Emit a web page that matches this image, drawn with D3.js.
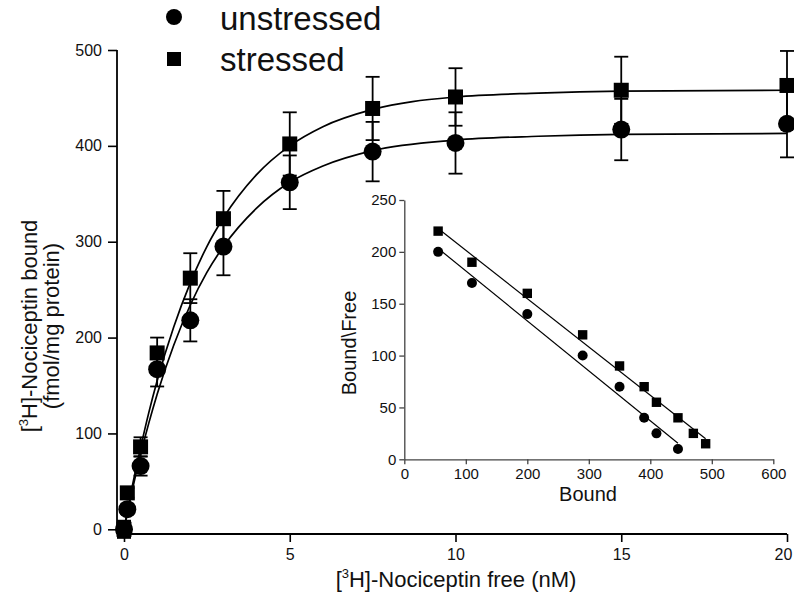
<!DOCTYPE html>
<html>
<head>
<meta charset="utf-8">
<script src="https://cdn.jsdelivr.net/npm/d3@7"></script>
<style>
  html, body { margin: 0; padding: 0; background: #fff; }
  svg { display: block; font-family: "Liberation Sans", Arial, sans-serif; }
</style>
</head>
<body>
<svg id="chart" width="794" height="599"></svg>
<script>
// ---------- Main saturation data ----------
const concentrations = [0, 0.1, 0.5, 1, 2, 3, 5, 7.5, 10, 15, 20];
const unstressedBound = [0, 21, 66, 167, 218, 295, 362, 394, 403, 417, 423];
const unstressedErr   = [9, 5, 10, 18, 22, 30, 28, 31, 32, 32, 35];
const stressedBound   = [0, 38, 86, 184, 262, 324, 402, 439, 451, 458, 463];
const stressedErr     = [8, 5, 10, 16, 26, 29, 33, 33, 30, 35, 36];

// fitted curves
const fitX          = [0, 0.25, 0.5, 0.75, 1, 1.5, 2, 2.5, 3, 4, 5, 6, 7.5, 10, 12.5, 15, 20];
const fitUnstressed = [0, 41, 78, 111, 141, 192, 234, 268, 295, 335, 362, 379, 395, 406, 410, 412, 413];
const fitStressed   = [0, 45, 85, 122, 155, 211, 257, 295, 325, 370, 400, 420, 438, 451, 455, 457, 458];

const xTicks = [0, 5, 10, 15, 20];
const yTicks = [0, 100, 200, 300, 400, 500];

// ---------- Scatchard inset data ----------
const scatBoundStressed   = [55, 110, 200, 290, 350, 390, 410, 445, 470, 490];
const scatRatioStressed   = [220, 190, 160, 120, 90, 70, 55, 40, 25, 15];
const scatBoundUnstressed = [55, 110, 200, 290, 350, 390, 410, 445];
const scatRatioUnstressed = [200, 170, 140, 100, 70, 40, 25, 10];
const insetXTicks = [0, 100, 200, 300, 400, 500, 600];
const insetYTicks = [0, 50, 100, 150, 200, 250];

const legendLabels = ["unstressed", "stressed"];

// ---------- Drawing ----------
const svg = d3.select("#chart");
const FONT = '"Liberation Sans", Arial, sans-serif';

const x = d3.scaleLinear().domain([0, 20]).range([124, 787]);
const y = d3.scaleLinear().domain([0, 500]).range([529.3, 50]);
const axisX = 117, axisY = 534;

// axes
const gy = svg.append("g").attr("transform", `translate(${axisX},0)`)
  .call(d3.axisLeft(y).tickValues(yTicks).tickSize(9).tickSizeOuter(0).tickPadding(6).tickFormat(d3.format("d")));
gy.select(".domain").remove();
const gx = svg.append("g").attr("transform", `translate(0,${axisY})`)
  .call(d3.axisBottom(x).tickValues(xTicks).tickSize(8).tickSizeOuter(0).tickPadding(7).tickFormat(d3.format("d")));
gx.select(".domain").remove();
[gx, gy].forEach(g => {
  g.selectAll("line").attr("stroke", "#000").attr("stroke-width", 1.6);
  g.selectAll("text").attr("fill", "#111").style("font-size", "16px").style("font-family", FONT);
});
// keep the last x label inside the frame
gx.selectAll(".tick text").filter(d => d === 20).attr("dx", -4);
svg.append("line").attr("x1", axisX).attr("x2", axisX).attr("y1", y(500)).attr("y2", axisY)
  .attr("stroke", "#000").attr("stroke-width", 1.8);
svg.append("line").attr("x1", axisX).attr("x2", x(20)).attr("y1", axisY).attr("y2", axisY)
  .attr("stroke", "#000").attr("stroke-width", 1.8);

// axis titles
const xt = svg.append("text").attr("x", 456).attr("y", 587).attr("text-anchor", "middle")
  .style("font-size", "22px").attr("fill", "#111");
xt.append("tspan").text("[");
xt.append("tspan").text("3").style("font-size", "13px").attr("dy", -9);
xt.append("tspan").text("H]-Nociceptin free (nM)").attr("dy", 9);

const yt1 = svg.append("text").attr("transform", "translate(37,326) rotate(-90)")
  .attr("text-anchor", "middle").style("font-size", "22px").attr("fill", "#111");
yt1.append("tspan").text("[");
yt1.append("tspan").text("3").style("font-size", "13px").attr("dy", -9);
yt1.append("tspan").text("H]-Nociceptin bound").attr("dy", 9);
svg.append("text").attr("transform", "translate(59,326) rotate(-90)")
  .attr("text-anchor", "middle").style("font-size", "22px").attr("fill", "#111")
  .text("(fmol/mg protein)");

// fit curves
const fitLine = vals => d3.line().x((d, i) => x(fitX[i])).y((d) => y(d)).curve(d3.curveMonotoneX)(vals);
svg.append("path").attr("d", fitLine(fitUnstressed)).attr("fill", "none").attr("stroke", "#000").attr("stroke-width", 1.7);
svg.append("path").attr("d", fitLine(fitStressed)).attr("fill", "none").attr("stroke", "#000").attr("stroke-width", 1.7);

// error bars
function errorBars(vals, errs) {
  const g = svg.append("g").attr("stroke", "#000").attr("stroke-width", 1.8);
  concentrations.forEach((c, i) => {
    const cx = x(c), y1 = y(vals[i] - errs[i]), y2 = y(vals[i] + errs[i]);
    g.append("line").attr("x1", cx).attr("x2", cx).attr("y1", y1).attr("y2", y2);
    g.append("line").attr("x1", cx - 7).attr("x2", cx + 7).attr("y1", y1).attr("y2", y1);
    g.append("line").attr("x1", cx - 7).attr("x2", cx + 7).attr("y1", y2).attr("y2", y2);
  });
}
errorBars(unstressedBound, unstressedErr);
errorBars(stressedBound, stressedErr);

// markers
svg.append("g").selectAll("circle").data(unstressedBound).join("circle")
  .attr("cx", (d, i) => x(concentrations[i])).attr("cy", d => y(d)).attr("r", 9).attr("fill", "#000");
svg.append("g").selectAll("rect").data(stressedBound).join("rect")
  .attr("x", (d, i) => x(concentrations[i]) - 7.5).attr("y", d => y(d) - 7.5)
  .attr("width", 15).attr("height", 15).attr("fill", "#000");

// legend
svg.append("circle").attr("cx", 174).attr("cy", 17).attr("r", 8).attr("fill", "#000");
svg.append("rect").attr("x", 167).attr("y", 52).attr("width", 14).attr("height", 14).attr("fill", "#000");
svg.append("text").attr("x", 220).attr("y", 30).style("font-size", "33px").attr("fill", "#111").text(legendLabels[0]);
svg.append("text").attr("x", 220).attr("y", 71).style("font-size", "33px").attr("fill", "#111").text(legendLabels[1]);

// ---------- Inset ----------
const xi = d3.scaleLinear().domain([0, 600]).range([404.3, 773.3]);
const yi = d3.scaleLinear().domain([0, 250]).range([459.3, 200]);
const gxi = svg.append("g").attr("transform", `translate(0,${yi(0)})`)
  .call(d3.axisBottom(xi).tickValues(insetXTicks).tickSize(5).tickSizeOuter(0).tickPadding(4));
const gyi = svg.append("g").attr("transform", `translate(${xi(0)},0)`)
  .call(d3.axisLeft(yi).tickValues(insetYTicks).tickSize(5).tickSizeOuter(0).tickPadding(3));
[gxi, gyi].forEach(g => {
  g.selectAll("line, path").attr("stroke", "#444").attr("stroke-width", 1.3);
  g.selectAll("text").attr("fill", "#111").style("font-size", "15px").style("font-family", FONT);
});
svg.append("text").attr("x", 588).attr("y", 501).attr("text-anchor", "middle")
  .style("font-size", "20px").attr("fill", "#111").text("Bound");
svg.append("text").attr("transform", "translate(356,343) rotate(-90)").attr("text-anchor", "middle")
  .style("font-size", "20px").attr("fill", "#111").text("Bound\\Free");

// regression lines
function regLine(xs, ys) {
  const mx = d3.mean(xs), my = d3.mean(ys);
  const sxy = d3.sum(xs, (v, i) => (v - mx) * (ys[i] - my));
  const sxx = d3.sum(xs, v => (v - mx) * (v - mx));
  const b = sxy / sxx, a = my - b * mx;
  const x0 = d3.min(xs), x1 = d3.max(xs);
  svg.append("line").attr("x1", xi(x0)).attr("y1", yi(a + b * x0)).attr("x2", xi(x1)).attr("y2", yi(a + b * x1))
    .attr("stroke", "#000").attr("stroke-width", 1.2);
}
regLine(scatBoundStressed, scatRatioStressed);
regLine(scatBoundUnstressed, scatRatioUnstressed);

svg.append("g").selectAll("circle").data(scatRatioUnstressed).join("circle")
  .attr("cx", (d, i) => xi(scatBoundUnstressed[i])).attr("cy", d => yi(d)).attr("r", 5).attr("fill", "#000");
svg.append("g").selectAll("rect").data(scatRatioStressed).join("rect")
  .attr("x", (d, i) => xi(scatBoundStressed[i]) - 4.7).attr("y", d => yi(d) - 4.7)
  .attr("width", 9.4).attr("height", 9.4).attr("fill", "#000");
</script>
</body>
</html>
